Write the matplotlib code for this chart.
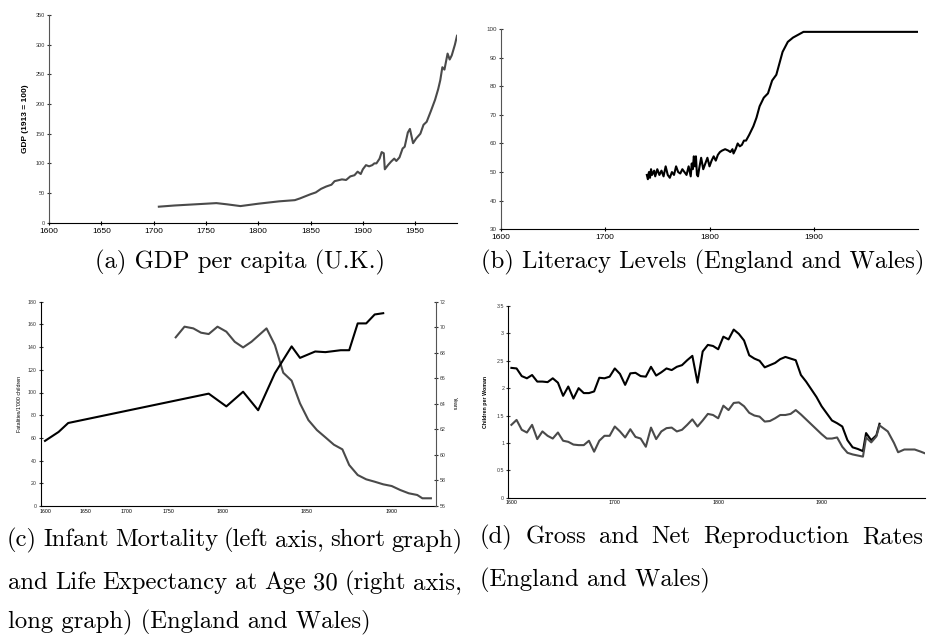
import numpy as np
import matplotlib
matplotlib.use("Agg")
import matplotlib.pyplot as plt
from matplotlib.scale import FuncScale

plt.rcParams["font.family"] = ["Liberation Sans", "DejaVu Sans"]

W, H = 935, 635

# (a) GDP per capita, U.K. (1913 = 100)
gdp_year = [1705, 1720, 1740, 1760, 1770, 1783, 1800, 1820, 1835, 1840, 1850,
            1855, 1860, 1865, 1870, 1873, 1880, 1884, 1888, 1892, 1895, 1898,
            1900, 1903, 1906, 1909, 1911, 1913, 1916, 1918, 1920, 1921, 1924,
            1927, 1930, 1932, 1935, 1938, 1940, 1943, 1945, 1948, 1951, 1955,
            1958, 1961, 1965, 1969, 1972, 1974, 1976, 1978, 1981, 1983, 1985,
            1988, 1990]
gdp_value = [27, 29, 31, 33, 31, 28, 32, 36, 38, 41, 48,
             51, 57, 61, 64, 70, 73, 72, 78, 80, 86, 82,
             90, 97, 95, 97, 100, 100, 108, 119, 117, 90, 97,
             103, 108, 104, 110, 125, 128, 152, 158, 134, 142, 150,
             165, 170, 188, 207, 225, 240, 262, 258, 285, 275, 282,
             300, 315]

# (b) Literacy levels, England and Wales (%)
lit_year = [1740, 1741, 1742, 1743, 1744, 1745, 1747, 1748, 1750, 1752, 1754,
            1756, 1758, 1760, 1762, 1764, 1766, 1768, 1770, 1772, 1774, 1776,
            1778, 1780, 1782, 1783, 1784, 1785, 1786, 1787, 1788, 1789, 1790,
            1792, 1794, 1796, 1798, 1800, 1802, 1804, 1806, 1808, 1810, 1812,
            1815, 1818, 1820, 1822, 1823, 1825, 1827, 1829, 1831, 1833, 1835,
            1838, 1842, 1845, 1848, 1852, 1856, 1860, 1864, 1867, 1870, 1875,
            1880, 1885, 1890, 1895, 2000]
lit_value = [49, 47.5, 50, 48, 51, 49, 50.5, 48.5, 51, 49, 50.5,
             48.5, 52, 49, 48, 50, 49, 52, 50, 49.5, 51, 50,
             49, 52, 48.5, 53, 51, 55.5, 52, 55.5, 49, 48.5, 51,
             55, 51, 53, 55, 52, 54, 55.5, 54, 56, 57, 57.5,
             58, 57.5, 57, 58, 56.5, 58, 60, 59, 59.5, 61, 61,
             63, 66, 69, 73, 76, 77.5, 82, 84, 88, 92, 95.5,
             97, 98, 99, 99, 99]

# (c) Life expectancy at age 30 (years, right axis)
le_year = [1600, 1617, 1629, 1787, 1802, 1812, 1821, 1831, 1841, 1846, 1855,
           1861, 1870, 1875, 1880, 1885, 1890, 1895]
le_value = [61.1, 61.8, 62.5, 64.8, 63.8, 64.95, 63.5, 66.4, 68.5, 67.6, 68.1,
            68.05, 68.2, 68.2, 70.3, 70.3, 71.0, 71.1]

# (c) Infant mortality (fatalities per 1'000 children, left axis)
im_year = [1757, 1765, 1773, 1780, 1787, 1795, 1802, 1807, 1812, 1817, 1826,
           1831, 1836, 1841, 1846, 1851, 1856, 1861, 1866, 1871, 1875, 1880,
           1885, 1890, 1895, 1900, 1905, 1910, 1915, 1918, 1923]
im_value = [148.6, 158, 156.5, 152.7, 151.5, 158, 153.6, 144.7, 139.7, 144.7,
            156.5, 141.8, 117.4, 110.4, 90.4, 75.7, 66.9, 60.5, 54, 49.9, 36.1,
            27.3, 23.5, 21.4, 19.1, 17.6, 14.1, 11.2, 9.7, 6.8, 6.8]

# (d) Gross and net reproduction rates (children per woman)
grr_year = [1600, 1605, 1610, 1615, 1620, 1625, 1630, 1635, 1640, 1645, 1650,
            1655, 1660, 1665, 1670, 1675, 1680, 1685, 1690, 1695, 1700, 1705,
            1710, 1715, 1720, 1725, 1730, 1735, 1740, 1745, 1750, 1755, 1760,
            1765, 1770, 1775, 1780, 1785, 1790, 1795, 1800, 1805, 1810, 1815,
            1820, 1825, 1830, 1835, 1840, 1845, 1850, 1855, 1860, 1865, 1870,
            1875, 1880, 1885, 1890, 1895, 1900, 1905, 1910, 1915, 1920, 1925,
            1930, 1935, 1940, 1943, 1948, 1953, 1956]
grr_value = [2.37, 2.36, 2.22, 2.18, 2.24, 2.12, 2.12, 2.11, 2.18, 2.10, 1.86,
             2.03, 1.81, 2.00, 1.91, 1.91, 1.94, 2.19, 2.18, 2.21, 2.36, 2.26,
             2.06, 2.27, 2.28, 2.22, 2.21, 2.39, 2.23, 2.29, 2.36, 2.33, 2.39,
             2.42, 2.51, 2.59, 2.10, 2.67, 2.79, 2.77, 2.71, 2.94, 2.89, 3.07,
             2.99, 2.87, 2.60, 2.54, 2.50, 2.38, 2.42, 2.46, 2.53, 2.57, 2.54,
             2.51, 2.24, 2.12, 1.98, 1.84, 1.67, 1.54, 1.41, 1.36, 1.30, 1.05,
             0.92, 0.89, 0.85, 1.18, 1.05, 1.14, 1.35]
nrr_year = [1600, 1605, 1610, 1615, 1620, 1625, 1630, 1635, 1640, 1645, 1650,
            1655, 1660, 1665, 1670, 1675, 1680, 1685, 1690, 1695, 1700, 1705,
            1710, 1715, 1720, 1725, 1730, 1735, 1740, 1745, 1750, 1755, 1760,
            1765, 1770, 1775, 1780, 1785, 1790, 1795, 1800, 1805, 1810, 1815,
            1820, 1825, 1830, 1835, 1840, 1845, 1850, 1855, 1860, 1865, 1870,
            1875, 1880, 1885, 1890, 1895, 1900, 1905, 1910, 1915, 1920, 1925,
            1930, 1935, 1940, 1943, 1948, 1953, 1956, 1964, 1970, 1974, 1980,
            1990, 1996, 2000]
nrr_value = [1.33, 1.42, 1.24, 1.19, 1.33, 1.07, 1.21, 1.13, 1.08, 1.19, 1.04,
             1.02, 0.97, 0.96, 0.96, 1.04, 0.84, 1.04, 1.13, 1.13, 1.30, 1.21,
             1.10, 1.25, 1.11, 1.08, 0.93, 1.28, 1.07, 1.21, 1.27, 1.28, 1.21,
             1.24, 1.33, 1.43, 1.30, 1.41, 1.53, 1.51, 1.45, 1.68, 1.60, 1.73,
             1.74, 1.67, 1.55, 1.50, 1.48, 1.39, 1.40, 1.45, 1.51, 1.51, 1.53,
             1.60, 1.52, 1.43, 1.34, 1.25, 1.16, 1.08, 1.08, 1.10, 0.93, 0.82,
             0.79, 0.77, 0.75, 1.10, 1.01, 1.12, 1.32, 1.21, 1.00, 0.83, 0.88,
             0.88, 0.84, 0.81]

# uneven year axis of panel (c): year knots and their pixel positions
c_knot_year = [1592.6, 1600, 1650, 1700, 1750, 1800, 1850, 1900, 1926]
c_knot_px = [41, 45, 85, 126.7, 168, 223, 306.7, 391.7, 436]

GRAY = "#4a4a4a"
CAPTION_SIZE = 17.8


def axes_px(fig, left, top, right, bottom):
    return fig.add_axes([left / W, 1 - bottom / H, (right - left) / W, (bottom - top) / H])


def style(ax, xsize, ysize, xtick_len=3):
    for s in ["top", "right"]:
        ax.spines[s].set_visible(False)
    ax.spines["left"].set_color("#555555")
    ax.spines["bottom"].set_color("black")
    ax.tick_params(axis="x", labelsize=xsize, direction="inout", length=xtick_len,
                   width=0.8, pad=2)
    ax.tick_params(axis="y", labelsize=ysize, direction="inout", length=3,
                   width=0.8, pad=1.5, colors="#333333")


def caption(fig, text, x, ybase, ha="left"):
    return fig.text(x / W, 1 - ybase / H, text, family="cmr10",
                    fontsize=CAPTION_SIZE, ha=ha, va="baseline")


def justified(fig, text, x0, x1, ybase):
    words = text.split()
    r = fig.canvas.get_renderer()
    texts = [caption(fig, w, 0, ybase) for w in words]
    widths = [t.get_window_extent(r).width for t in texts]
    gap = (x1 - x0 - sum(widths)) / (len(words) - 1)
    x = x0
    for t, w in zip(texts, widths):
        t.set_x(x / W)
        x += w + gap


fig = plt.figure(figsize=(W / 100, H / 100), dpi=100)

# (a)
ax = axes_px(fig, 49, 15, 457, 222.7)
ax.plot(gdp_year, gdp_value, color=GRAY, lw=1.5)
ax.set_xlim(1600, 1990)
ax.set_ylim(0, 350)
ax.set_xticks(range(1600, 1951, 50))
ax.set_yticks(range(0, 351, 50))
style(ax, 6, 4)
ax.set_ylabel("GDP (1913 = 100)", fontsize=6, fontweight="bold", labelpad=5)

# (b)
ax = axes_px(fig, 500.7, 29, 918.3, 229.3)
ax.plot(lit_year, lit_value, color="black", lw=1.5)
ax.set_xlim(1600, 2000)
ax.set_ylim(30, 100)
ax.set_xticks(range(1600, 1901, 100))
ax.set_yticks(range(30, 101, 10))
style(ax, 6, 4.5)

# (c)
ax = axes_px(fig, 41, 301.7, 436, 506)
fwd = lambda y: np.interp(y, c_knot_year, c_knot_px)
inv = lambda p: np.interp(p, c_knot_px, c_knot_year)
ax.set_xscale(FuncScale(ax, (fwd, inv)))
ax.plot(im_year, im_value, color=GRAY, lw=1.5)
ax.set_xlim(c_knot_year[0], c_knot_year[-1])
ax.set_ylim(0, 180)
ax.set_xticks(range(1600, 1901, 50))
ax.set_yticks(range(0, 181, 20))
style(ax, 3.8, 3.8, xtick_len=0)
ax.spines["left"].set_color("black")
ax.set_ylabel("Fatalities/1'000 children", fontsize=3.8, labelpad=4)
ax2 = ax.twinx()
ax2.plot(le_year, le_value, color="black", lw=1.5)
ax2.set_ylim(56, 72)
ax2.set_yticks(range(56, 73, 2))
for s in ["top", "left", "bottom"]:
    ax2.spines[s].set_visible(False)
ax2.spines["right"].set_color("#555555")
ax2.tick_params(axis="y", labelsize=3.8, direction="inout", length=3, width=0.8,
                pad=1.5, colors="#333333")
ax2.set_ylabel("Years", fontsize=3.8, rotation=-90, labelpad=8)

# (d)
ax = axes_px(fig, 508.3, 306, 925, 497.7)
ax.plot(grr_year, grr_value, color="black", lw=1.5)
ax.plot(nrr_year, nrr_value, color=GRAY, lw=1.5)
ax.set_xlim(1597, 2000)
ax.set_ylim(0, 3.5)
ax.set_xticks(range(1600, 1901, 100))
ax.set_yticks([0, 0.5, 1, 1.5, 2, 2.5, 3, 3.5])
ax.set_yticklabels(["0", "0.5", "1", "1.5", "2", "2.5", "3", "3.5"])
style(ax, 3.8, 3.8, xtick_len=0)
ax.spines["left"].set_color("black")
ax.set_ylabel("Children per Woman", fontsize=3.8, fontweight="bold", labelpad=6)

# captions
caption(fig, "(a) GDP per capita (U.K.)", 240, 268, ha="center")
caption(fig, "(b) Literacy Levels (England and Wales)", 703, 268, ha="center")
justified(fig, "(c) Infant Mortality (left axis, short graph)", 7, 462, 546)
justified(fig, "and Life Expectancy at Age 30 (right axis,", 8, 462, 589)
caption(fig, "long graph) (England and Wales)", 8, 628)
justified(fig, "(d) Gross and Net Reproduction Rates", 480, 923, 543)
caption(fig, "(England and Wales)", 480, 586)

fig.savefig("out.png", dpi=100)
